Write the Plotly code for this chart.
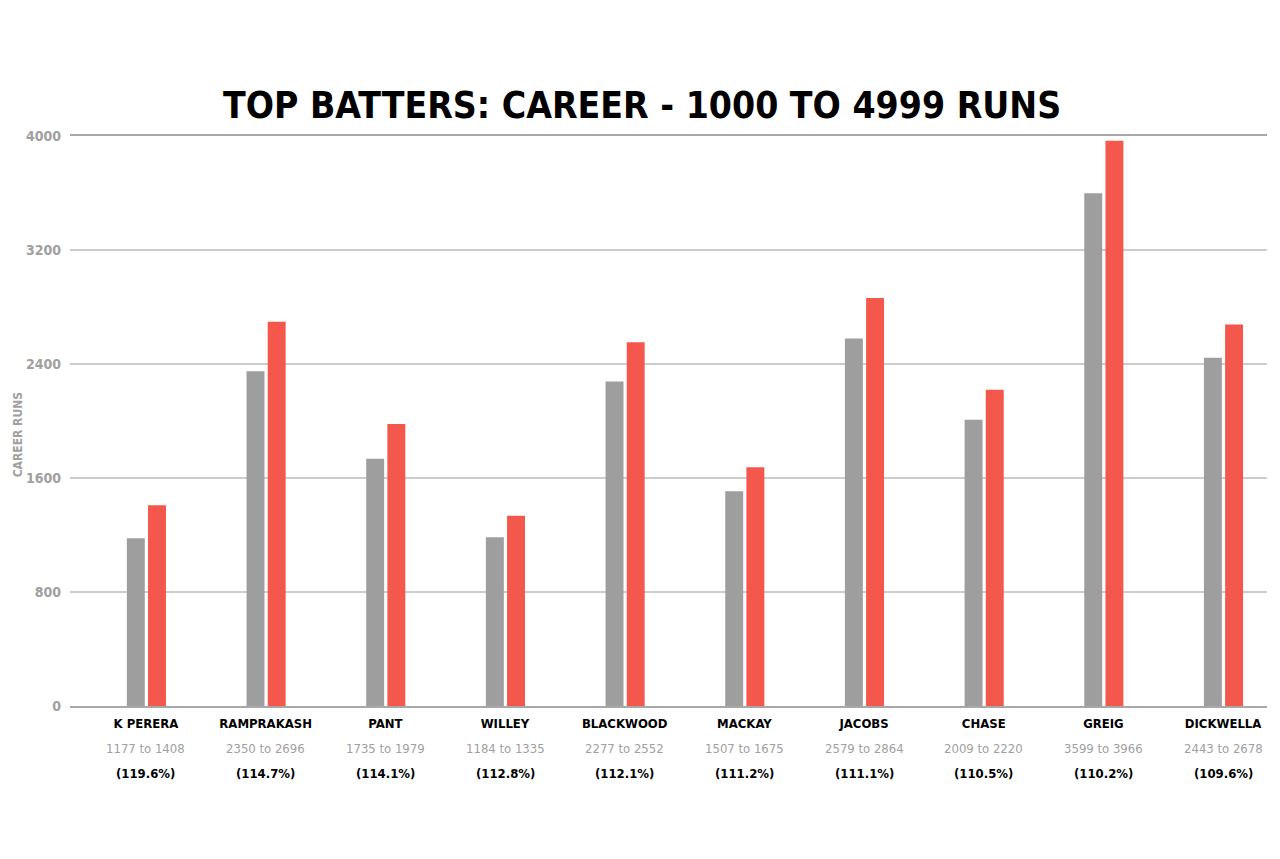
import plotly.graph_objects as go

# data
players = ["K PERERA", "RAMPRAKASH", "PANT", "WILLEY", "BLACKWOOD",
           "MACKAY", "JACOBS", "CHASE", "GREIG", "DICKWELLA"]
runs_before = [1177, 2350, 1735, 1184, 2277, 1507, 2579, 2009, 3599, 2443]
runs_after = [1408, 2696, 1979, 1335, 2552, 1675, 2864, 2220, 3966, 2678]
pct_labels = ["119.6%", "114.7%", "114.1%", "112.8%", "112.1%",
              "111.2%", "111.1%", "110.5%", "110.2%", "109.6%"]
y_ticks = [0, 800, 1600, 2400, 3200, 4000]

GREY = "#9e9e9e"
RED = "#f4574c"
FONT = "DejaVu Sans Condensed, DejaVu Sans, sans-serif"

xs = list(range(len(players)))

fig = go.Figure()
fig.add_trace(go.Bar(x=xs, y=runs_before, marker_color=GREY, width=0.15,
                     offset=-0.16, marker_line_width=0, showlegend=False))
fig.add_trace(go.Bar(x=xs, y=runs_after, marker_color=RED, width=0.15,
                     offset=0.017, marker_line_width=0, showlegend=False))

# second and third line of each category label
for i, (a, b, p) in enumerate(zip(runs_before, runs_after, pct_labels)):
    fig.add_annotation(x=i, xref="x", y=-0.074, yref="paper", showarrow=False,
                       text=f"{a} to {b}", yanchor="middle",
                       font=dict(family=FONT, size=13, color="#a0a0a0"))
    fig.add_annotation(x=i, xref="x", y=-0.118, yref="paper", showarrow=False,
                       text=f"<b>({p})</b>", yanchor="middle",
                       font=dict(family=FONT, size=13, color="black"))

# y axis title
fig.add_annotation(x=-0.0434, xref="paper", xanchor="center",
                   y=0.475, yref="paper", yanchor="middle",
                   showarrow=False, text="<b>CAREER RUNS</b>", textangle=-90,
                   font=dict(family=FONT, size=12, color="#a0a0a0"))

fig.update_xaxes(
    tickvals=xs,
    ticktext=[f"<b>{p}</b>" for p in players],
    range=[-0.635, 9.367],
    showgrid=False,
    showline=True, mirror=True, linecolor="#a8a8a8", linewidth=1.5,
    ticks="", ticklabelstandoff=5,
    tickfont=dict(family=FONT, size=13, color="black"),
)
fig.update_yaxes(
    range=[0, 4000],
    tickvals=y_ticks,
    ticktext=[f"<b>{t}</b>" for t in y_ticks],
    showgrid=True, gridcolor="#cccccc", gridwidth=1.5,
    zeroline=False, showline=False,
    ticks="", ticklabelstandoff=8,
    tickfont=dict(family=FONT, size=14, color="#a0a0a0"),
)
fig.update_layout(
    width=1272, height=851,
    margin=dict(l=62, r=13, t=128, b=153),
    paper_bgcolor="white",
    plot_bgcolor="white",
    barmode="overlay",
    title=dict(
        text="<b>TOP BATTERS: CAREER - 1000 TO 4999 RUNS</b>",
        x=0.4985, xanchor="center", y=0.886, yanchor="middle",
        font=dict(family=FONT, size=37, color="black"),
    ),
)
fig.write_html("out.html")
